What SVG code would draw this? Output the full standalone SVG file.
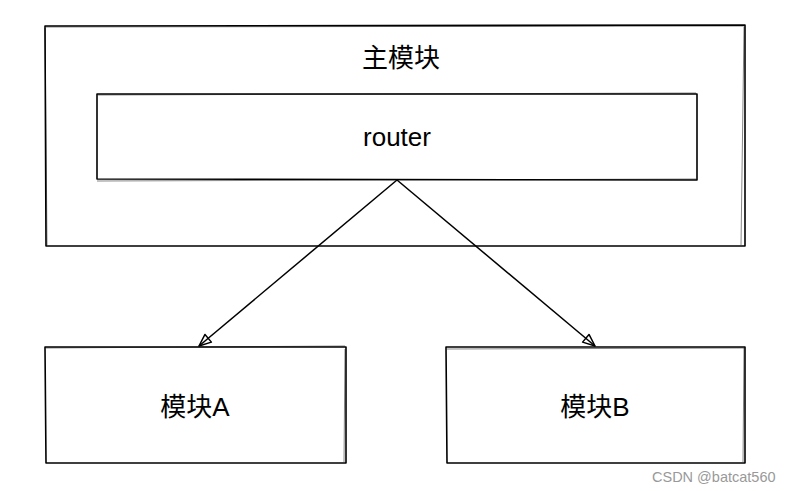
<svg xmlns="http://www.w3.org/2000/svg" width="791" height="491" viewBox="0 0 791 491">
<style>
.box{fill:none;stroke:#000;stroke-width:1.6;stroke-linejoin:round}
.sk{fill:none;stroke:#000;stroke-width:0.8;opacity:0.6}
.lbl{font-family:"Liberation Sans","Noto Sans CJK SC",sans-serif;font-size:26px;fill:#000;text-anchor:middle}
.edge{fill:none;stroke:#000;stroke-width:1.5}
.wm{font-family:"Liberation Sans","Noto Sans CJK SC",sans-serif;font-size:14.5px;fill:#999}
</style>
<defs>
<marker id="arr" markerWidth="16" markerHeight="14" refX="14" refY="7" orient="auto" markerUnits="userSpaceOnUse">
<path d="M 2 2 L 14 7 L 2 12 Z" fill="none" stroke="#000" stroke-width="1.5" stroke-linejoin="round"/>
</marker>
</defs>
<rect width="791" height="491" fill="#fff"/>
<g id="main">
<path class="box" d="M45 26 L745 25 L745 246 L46 246 Z"/>
<path class="sk" d="M46 27 L744 26 M744 27 L741 245 M45 28 L47 245"/>
<text class="lbl" x="401" y="67">主模块</text>
</g>
<g id="router">
<path class="box" d="M97 94 L697 94 L697 180 L97 179 Z"/>
<path class="sk" d="M98 95 L696 93 M97 181 L696 179"/>
<text class="lbl" x="397" y="146">router</text>
</g>
<g id="moduleA">
<path class="box" d="M45 347 L346 347 L346 463 L46 463 Z"/>
<path class="sk" d="M46 348 L345 346 M345 349 L344 462"/>
<text class="lbl" x="195" y="416">模块A</text>
</g>
<g id="moduleB">
<path class="box" d="M446 347 L745 347 L745 463 L447 463 Z"/>
<path class="sk" d="M447 349 L744 348 M744 348 L743 462"/>
<text class="lbl" x="595" y="416">模块B</text>
</g>
<g id="connectors">
<path class="edge" d="M397 180 L199 346" marker-end="url(#arr)"/>
<path class="edge" d="M397 180 L595 346" marker-end="url(#arr)"/>
</g>
<text class="wm" x="652" y="482">CSDN @batcat560</text>
</svg>
